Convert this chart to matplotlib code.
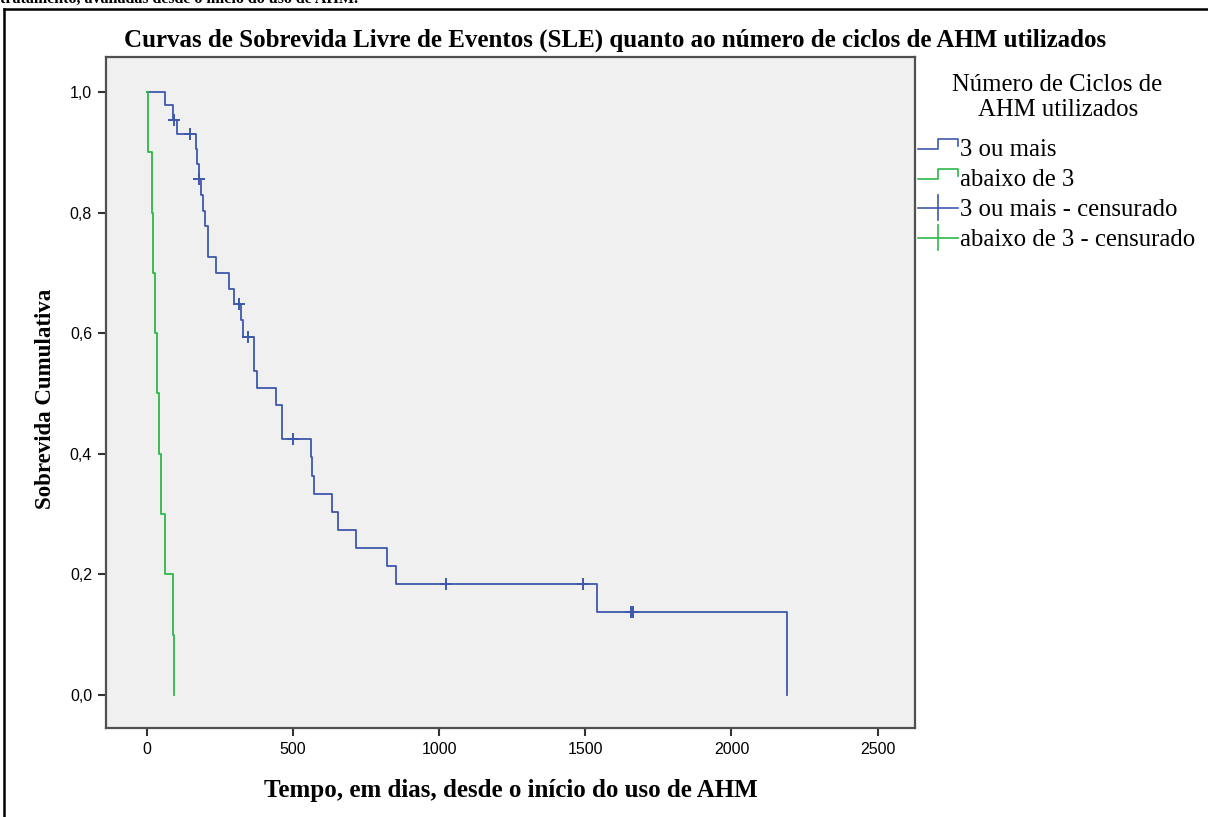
import numpy as np
import matplotlib
matplotlib.use("Agg")
import matplotlib.pyplot as plt
from matplotlib.legend_handler import HandlerBase
from matplotlib.lines import Line2D

# grupo "3 ou mais" : tempos de evento e sobrevida apos cada evento
t_mais = [0, 62, 90, 103, 168, 172, 177, 185, 192, 200, 210, 238, 282, 299, 322, 330,
          366, 375, 440, 461, 561, 565, 571, 632, 653, 715, 820, 852, 1539, 2189]
s_mais = [1.0, 0.978, 0.954, 0.930, 0.905, 0.880, 0.855, 0.829, 0.803, 0.778, 0.726,
          0.700, 0.673, 0.648, 0.621, 0.594, 0.537, 0.509, 0.481, 0.424, 0.395, 0.363,
          0.333, 0.303, 0.274, 0.244, 0.214, 0.184, 0.138, 0.0]
# censurados
tc_mais = [92, 147, 179, 316, 345, 499, 1023, 1491, 1655, 1663]
sc_mais = [0.954, 0.930, 0.855, 0.648, 0.594, 0.424, 0.184, 0.184, 0.138, 0.138]

# grupo "abaixo de 3"
t_abaixo = [0, 4, 16, 22, 27, 34, 42, 47, 62, 90, 94]
s_abaixo = [1.0, 0.9, 0.8, 0.7, 0.6, 0.5, 0.4, 0.3, 0.2, 0.1, 0.0]

xticks = [0, 500, 1000, 1500, 2000, 2500]
yticks = [0.0, 0.2, 0.4, 0.6, 0.8, 1.0]

AZUL = "#3E58AC"
VERDE = "#2EB848"
SERIF = "Liberation Serif"
SANS = "Liberation Sans"

W, H = 1208, 817
fig = plt.figure(figsize=(W / 100, H / 100), dpi=100)
ax = fig.add_axes([106 / W, 1 - 728 / H, 809 / W, 671 / H])
ax.set_facecolor("#F0F0F0")

ax.step(t_mais, s_mais, where="post", color=AZUL, lw=1.3)
ax.step(t_abaixo, s_abaixo, where="post", color=VERDE, lw=1.3)
ax.plot(tc_mais, sc_mais, "+", color=AZUL, ms=9, mew=1.4)

ax.set_xlim(-140, 2628)
ax.set_ylim(-0.055, 1.058)
ax.set_xticks(xticks)
ax.set_xticklabels([str(v) for v in xticks])
ax.set_yticks(yticks)
ax.set_yticklabels([f"{v:.1f}".replace(".", ",") for v in yticks])
for sp in ax.spines.values():
    sp.set_color("#505050")
    sp.set_linewidth(1.6)
ax.tick_params(direction="out", length=6, width=1.5, color="#333333", labelsize=11.5, pad=4)
for lb in ax.get_xticklabels() + ax.get_yticklabels():
    lb.set_family(SANS)

ax.set_xlabel("Tempo, em dias, desde o início do uso de AHM", family=SERIF,
              fontweight="bold", fontsize=18, labelpad=16)
ax.set_ylabel("Sobrevida Cumulativa", family=SERIF, fontweight="bold",
              fontsize=16.5, labelpad=10)
ax.yaxis.label.set_y(0.49)

fig.text(615 / W, 1 - 40 / H,
         "Curvas de Sobrevida Livre de Eventos (SLE) quanto ao número de ciclos de AHM utilizados",
         family=SERIF, fontweight="bold", fontsize=18, ha="center", va="center")

# texto cortado do documento e moldura
fig.text(0.0, 1 - 2.5 / H, "tratamento, avaliadas desde o início do uso de AHM.",
         family=SERIF, fontweight="bold", fontsize=11.5, ha="left", va="baseline")
fig.add_artist(Line2D([4 / W, 1], [1 - 9 / H] * 2, transform=fig.transFigure, color="black", lw=1.8))
fig.add_artist(Line2D([4 / W] * 2, [0, 1 - 9 / H], transform=fig.transFigure, color="black", lw=1.8))


class StepHandler(HandlerBase):
    def create_artists(self, legend, orig, xd, yd, w, h, fs, trans):
        x0 = -xd
        y0 = -yd
        xs = [x0, x0 + 0.5 * w, x0 + 0.5 * w, x0 + w, x0 + w]
        ys = [y0 + 0.42 * h, y0 + 0.42 * h, y0 + 1.0 * h, y0 + 1.0 * h, y0 + 0.62 * h]
        return [Line2D(xs, ys, color=orig.get_color(), lw=1.2, transform=trans)]


class CensorHandler(HandlerBase):
    def create_artists(self, legend, orig, xd, yd, w, h, fs, trans):
        x0 = -xd
        y0 = -yd
        a = Line2D([x0, x0 + w], [y0 + 0.5 * h] * 2, color=orig.get_color(), lw=1.2, transform=trans)
        b = Line2D([x0 + 0.5 * w] * 2, [y0 - 0.2 * h, y0 + 1.2 * h], color=orig.get_color(),
                   lw=1.2, transform=trans)
        return [a, b]


# titulo da legenda
fig.text(1057 / W, 1 - 85 / H, "Número de Ciclos de", family=SERIF, fontsize=17.8,
         ha="center", va="center")
fig.text(1058 / W, 1 - 110 / H, "AHM utilizados", family=SERIF, fontsize=17.8,
         ha="center", va="center")

h1 = Line2D([], [], color=AZUL)
h2 = Line2D([], [], color=VERDE)
h3 = Line2D([], [], color=AZUL, marker="+")
h4 = Line2D([], [], color=VERDE, marker="+")
leg = fig.legend([h1, h2, h3, h4],
                 ["3 ou mais", "abaixo de 3", "3 ou mais - censurado", "abaixo de 3 - censurado"],
                 handler_map={h1: StepHandler(), h2: StepHandler(),
                              h3: CensorHandler(), h4: CensorHandler()},
                 loc="upper left", bbox_to_anchor=(918 / W, 1 - 139 / H),
                 frameon=False, prop={"family": SERIF, "size": 17.8},
                 handlelength=1.62, handletextpad=0.08, labelspacing=0.31,
                 borderpad=0, borderaxespad=0)

fig.savefig("out.png", dpi=100)
